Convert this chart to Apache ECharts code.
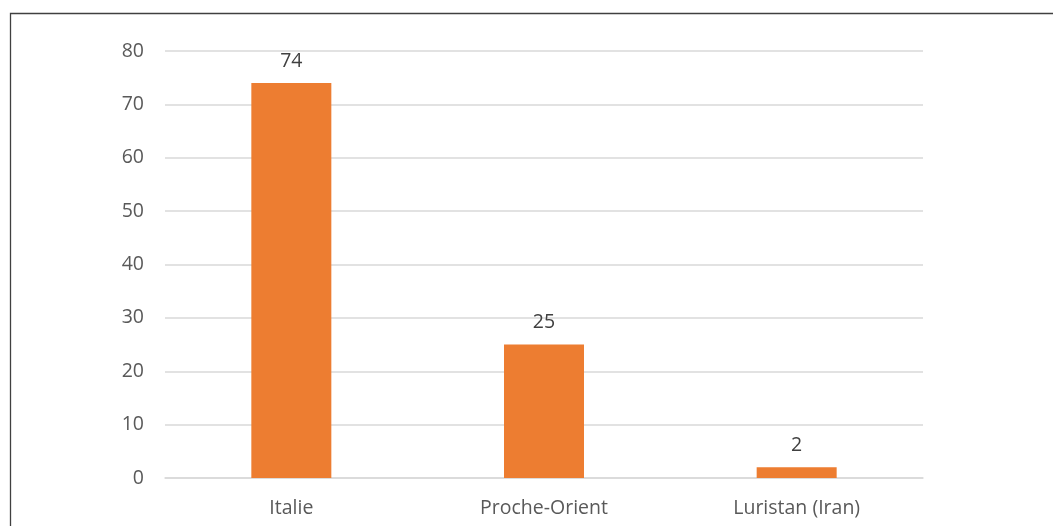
<!DOCTYPE html>
<html><head><meta charset="utf-8">
<script src="https://cdn.jsdelivr.net/npm/echarts@6/dist/echarts.min.js"></script>
<style>html,body{margin:0;padding:0;background:#fff}#c{width:1053px;height:526px}</style>
</head><body><div id="c"></div>
<script>
const categories = ["Italie", "Proche-Orient", "Luristan (Iran)"];
const values = [74, 25, 2];
const yTicks = [0, 10, 20, 30, 40, 50, 60, 70, 80];

const chart = echarts.init(document.getElementById('c'));
const font = '"Open Sans", Lato, sans-serif';
chart.setOption({
  animation: false,
  graphic: [{
    type: 'rect', left: 8, top: 11, silent: true,
    shape: { x: 0, y: 0, width: 1100, height: 600 },
    style: { fill: 'none', stroke: '#404040', lineWidth: 1.3 }
  }],
  grid: { left: 165, right: 130, top: 51, bottom: 48 },
  xAxis: {
    type: 'category', data: categories,
    axisLine: { lineStyle: { color: '#d9d9d9', width: 1.5 } },
    axisTick: { show: false },
    axisLabel: { color: '#595959', fontSize: 19.5, fontFamily: font, margin: 20 }
  },
  yAxis: {
    type: 'value', min: yTicks[0], max: yTicks[yTicks.length - 1], interval: 10,
    axisLine: { show: false }, axisTick: { show: false },
    axisLabel: { color: '#595959', fontSize: 19.5, fontFamily: font, margin: 21 },
    splitLine: { lineStyle: { color: '#d9d9d9', width: 1.5 } }
  },
  series: [{
    type: 'bar', data: values, barWidth: 80,
    itemStyle: { color: '#ed7d31' },
    label: { show: true, position: 'top', distance: 12, color: '#404040', fontSize: 19.5, fontFamily: font }
  }]
});
</script></body></html>
